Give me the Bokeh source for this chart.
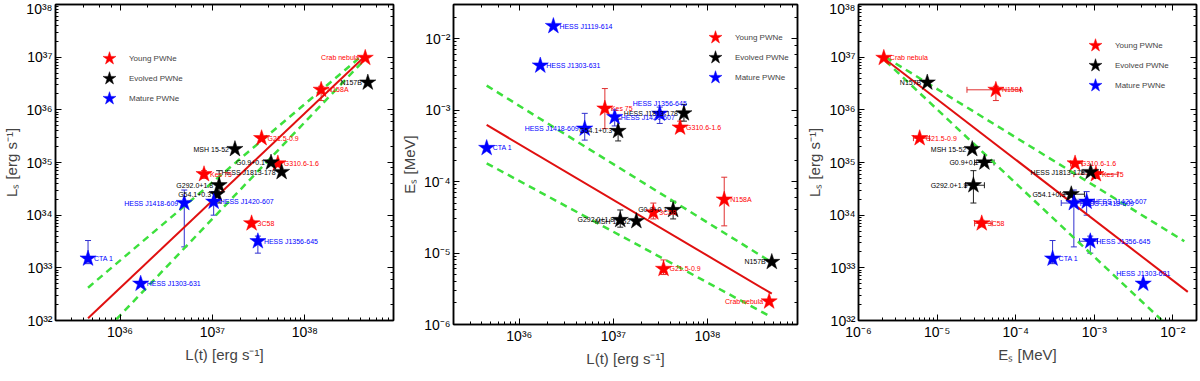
from bokeh.plotting import figure
from bokeh.layouts import row
from bokeh.models import (ColumnDataSource, LogAxis, Whisker, TeeHead, Legend,
                          LegendItem, CustomJSTickFormatter)
from bokeh.core.properties import value
from bokeh.embed import file_html
from bokeh.resources import INLINE

# ---------------- data ----------------
names = ["Crab nebula", "N157B", "N158A", "G21.5-0.9", "MSH 15-52", "G0.9+0.1",
         "G310.6-1.6", "HESS J1813-178", "Kes 75", "G292.0+1.8", "G54.1+0.3",
         "HESS J1420-607", "HESS J1418-609", "3C58", "HESS J1356-645", "CTA 1",
         "HESS J1303-631", "HESS J1119-614"]
groups = ["Young", "Evolved", "Young", "Young", "Evolved", "Evolved",
          "Young", "Evolved", "Young", "Evolved", "Evolved",
          "Mature", "Mature", "Young", "Mature", "Mature",
          "Mature", "Mature"]
# spin-down luminosity L(t) [erg/s]
L_t = [4.5e38, 4.8e38, 1.5e38, 3.4e37, 1.75e37, 4.3e37,
       5.1e37, 5.6e37, 8.1e36, 1.18e37, 1.12e37,
       1.03e37, 4.95e36, 2.65e37, 3.1e37, 4.5e35,
       1.67e36, 2.3e36]
# synchrotron luminosity L_S [erg/s]
L_s = [9.7e36, 3.3e36, 2.4e36, 2.9e35, 1.8e35, 1.0e35,
       9.6e34, 6.6e34, 6.0e34, 3.7e34, 2.5e34,
       1.8e34, 1.7e34, 7.0e33, 3.2e33, 1.5e33,
       5.0e32, None]
L_s_lo = [None, None, 1.5e36, None, None, None,
          None, None, 5.0e34, 1.7e34, None,
          1.0e34, 2.5e33, 6.0e33, 1.9e33, 1.2e33,
          None, None]
L_s_hi = [None, None, 2.8e36, None, None, None,
          None, None, 7.0e34, 7.0e34, None,
          2.8e34, 3.0e34, 8.0e33, 4.0e33, 3.3e33,
          None, None]
# break energy E_S [MeV]
E_s = [2.1e-6, 7.5e-6, 5.6e-5, 6.0e-6, 2.8e-5, 4.0e-5,
       5.7e-4, 9.0e-4, 1.05e-3, 2.9e-5, 5.1e-4,
       8.0e-4, 5.5e-4, 3.7e-5, 8.9e-4, 2.95e-4,
       4.2e-3, 1.5e-2]
E_s_lo = [None, None, 2.4e-5, 5.0e-6, None, 3.0e-5,
          5.0e-4, 7.0e-4, 5.5e-4, 2.3e-5, 3.7e-4,
          6.0e-4, 3.8e-4, 3.0e-5, 6.5e-4, None,
          None, None]
E_s_hi = [None, None, 1.15e-4, 8.0e-6, None, 5.3e-5,
          7.0e-4, 1.2e-3, 2.0e-3, 4.0e-5, 7.5e-4,
          1.0e-3, 9.0e-4, 5.0e-5, 1.1e-3, None,
          None, None]

# fitted relations (end points) and their bands
fitA_x = [4.5e35, 4.5e38];  fitA_y = [1.1e32, 1.05e37]
bandA_up_x = [4.5e35, 4.1e38]; bandA_up_y = [4.2e32, 1.05e37]
bandA_lo_x = [9.1e35, 4.3e38]; bandA_lo_y = [1.05e32, 8.5e36]

fitB_x = [4.5e35, 4.8e38];  fitB_y = [6.2e-4, 2.7e-6]
bandB_up_x = [4.5e35, 4.8e38]; bandB_up_y = [2.2e-3, 7.4e-6]
bandB_lo_x = [4.5e35, 4.6e38]; bandB_lo_y = [1.8e-4, 1.3e-6]

fitC_x = [2.2e-6, 1.55e-2]; fitC_y = [9.0e36, 3.5e32]
bandC_up_x = [2.2e-6, 1.4e-2]; bandC_up_y = [1.0e37, 3.2e33]
bandC_lo_x = [2.2e-6, 7.3e-3]; bandC_lo_y = [8.5e36, 1.0e32]

legend_labels = ["Young PWNe", "Evolved PWNe", "Mature PWNe"]

# ---------------- style ----------------
COLORS = {"Young": "#ff0000", "Evolved": "#000000", "Mature": "#0000ff"}
ERRCOL = {"Young": "#e03030", "Evolved": "#202020", "Mature": "#3030d0"}
FONT = "Liberation Sans"
NARROW = "'Liberation Sans Narrow', 'Liberation Sans'"

# label placement per panel: r = right, l = left, t = above
placeA = {"Crab nebula": "l", "N157B": "l", "N158A": "r", "G21.5-0.9": "r",
          "MSH 15-52": "l", "G0.9+0.1": "l", "G310.6-1.6": "r", "HESS J1813-178": "l",
          "Kes 75": "r", "G292.0+1.8": "l", "G54.1+0.3": "l", "HESS J1420-607": "r",
          "HESS J1418-609": "l", "3C58": "r", "HESS J1356-645": "r", "CTA 1": "r",
          "HESS J1303-631": "r"}
placeB = {"Crab nebula": "l", "N157B": "l", "N158A": "r", "G21.5-0.9": "r",
          "MSH 15-52": "l", "G0.9+0.1": "l", "G310.6-1.6": "r", "HESS J1813-178": "l",
          "Kes 75": "r", "G292.0+1.8": "l", "G54.1+0.3": "l", "HESS J1420-607": "r",
          "HESS J1418-609": "l", "3C58": "r", "HESS J1356-645": "t", "CTA 1": "r",
          "HESS J1303-631": "r", "HESS J1119-614": "r"}
placeC = {"Crab nebula": "r", "N157B": "l", "N158A": "r", "G21.5-0.9": "r",
          "MSH 15-52": "l", "G0.9+0.1": "l", "G310.6-1.6": "r", "HESS J1813-178": "l",
          "Kes 75": "r", "G292.0+1.8": "l", "G54.1+0.3": "l", "HESS J1420-607": "r",
          "HESS J1418-609": "r", "3C58": "r", "HESS J1356-645": "r", "CTA 1": "r",
          "HESS J1303-631": "t"}

SUP = """
const m = {'0':'\u2070','1':'\u00b9','2':'\u00b2','3':'\u00b3','4':'\u2074','5':'\u2075',
           '6':'\u2076','7':'\u2077','8':'\u2078','9':'\u2079','-':'\u207b'};
const e = Math.round(Math.log10(tick));
return '10' + String(e).split('').map(c => m[c]).join('');
"""


def make_fig(fw, fh, xr, yr, xlabel, ylabel, borders):
    p = figure(frame_width=fw, frame_height=fh, x_axis_type="log", y_axis_type="log",
               x_range=xr, y_range=yr, output_backend="svg", toolbar_location=None,
               min_border_left=borders[0], min_border_right=borders[1],
               min_border_top=borders[2], min_border_bottom=borders[3])
    p.xgrid.visible = False
    p.ygrid.visible = False
    p.outline_line_color = "black"
    p.outline_line_width = 1.5
    for ax in (p.xaxis[0], p.yaxis[0]):
        ax.formatter = CustomJSTickFormatter(code=SUP)
        ax.major_tick_in = 6
        ax.major_tick_out = 0
        ax.minor_tick_in = 3
        ax.minor_tick_out = 0
        ax.axis_line_width = 1.5
        ax.major_label_text_font = FONT
        ax.major_label_text_font_size = "14px"
        ax.major_label_text_color = "black"
        ax.axis_label_text_font = FONT
        ax.axis_label_text_font_size = "15px"
        ax.axis_label_text_font_style = "normal"
        ax.major_label_standoff = 3
        ax.axis_label_standoff = 3
    p.xaxis[0].axis_label = xlabel
    p.yaxis[0].axis_label = ylabel
    for place in ("above", "right"):
        ax = LogAxis(major_label_standoff=0, major_label_text_font_size="1px",
                     major_tick_in=6, major_tick_out=0, minor_tick_in=3, minor_tick_out=0,
                     axis_line_width=1.5)
        ax.formatter = CustomJSTickFormatter(code="return ' ';")
        p.add_layout(ax, place)
    return p


def side_cols(place, nm):
    s = place.get(nm, "r")
    if s == "r":
        return 6, 0, "left"
    if s == "l":
        return -6, 0, "right"
    return 0, -10, "center"


def draw(p, xs, ys, xlo, xhi, ylo, yhi, place, legend_xy):
    renderers = {}
    for g in ("Young", "Evolved", "Mature"):
        idx = [i for i in range(len(names)) if groups[i] == g and xs[i] is not None and ys[i] is not None]
        src = ColumnDataSource(dict(x=[xs[i] for i in idx], y=[ys[i] for i in idx]))
        if ylo is not None:
            e = [i for i in idx if ylo[i] is not None]
            es = ColumnDataSource(dict(b=[xs[i] for i in e], lo=[ylo[i] for i in e], hi=[yhi[i] for i in e]))
            p.add_layout(Whisker(source=es, base="b", lower="lo", upper="hi", dimension="height",
                                 line_color=ERRCOL[g], line_width=1,
                                 upper_head=TeeHead(size=6, line_color=ERRCOL[g], line_width=1),
                                 lower_head=TeeHead(size=6, line_color=ERRCOL[g], line_width=1)))
        if xlo is not None:
            e = [i for i in idx if xlo[i] is not None]
            es = ColumnDataSource(dict(b=[ys[i] for i in e], lo=[xlo[i] for i in e], hi=[xhi[i] for i in e]))
            p.add_layout(Whisker(source=es, base="b", lower="lo", upper="hi", dimension="width",
                                 line_color=ERRCOL[g], line_width=1,
                                 upper_head=TeeHead(size=6, line_color=ERRCOL[g], line_width=1),
                                 lower_head=TeeHead(size=6, line_color=ERRCOL[g], line_width=1)))
        renderers[g] = p.scatter("x", "y", source=src, marker="star", size=17,
                                 fill_color=COLORS[g], line_color=COLORS[g], line_width=0.5)
    idx = [i for i in range(len(names)) if xs[i] is not None and ys[i] is not None]
    dx, dy, al = zip(*[side_cols(place, names[i]) for i in idx])
    lsrc = ColumnDataSource(dict(x=[xs[i] for i in idx], y=[ys[i] for i in idx],
                                 t=[names[i] for i in idx],
                                 c=[COLORS[groups[i]] for i in idx],
                                 dx=list(dx), dy=list(dy), al=list(al)))
    p.text("x", "y", text="t", source=lsrc, text_color="c", text_font=value(NARROW),
           text_font_size="7px", x_offset="dx", y_offset="dy", text_align="al",
           text_baseline="middle")
    lx, ly = legend_xy
    for k, g in enumerate(("Young", "Evolved", "Mature")):
        leg = Legend(items=[LegendItem(label=legend_labels[k], renderers=[renderers[g]])],
                     location=(lx, ly - 20 * k), glyph_width=34, glyph_height=34,
                     padding=0, margin=0, label_standoff=3, label_text_font=NARROW,
                     label_text_font_size="8px", border_line_alpha=0,
                     background_fill_alpha=0)
        p.add_layout(leg)


def fit_lines(p, fx, fy, ux, uy, lx, ly):
    p.line(ux, uy, line_color="#3de03d", line_width=2.5, line_dash="7 5")
    p.line(lx, ly, line_color="#3de03d", line_width=2.5, line_dash="7 5")
    p.line(fx, fy, line_color="#e01010", line_width=2)


# Panel A: L_S vs L(t)
pA = make_fig(338, 316, (2.0e35, 9.1e38), (1e32, 1e38), "L(t) [erg s\u207b\u00b9]",
              "L\u209b [erg s\u207b\u00b9]", (50, 4, 3, 45))
fit_lines(pA, fitA_x, fitA_y, bandA_up_x, bandA_up_y, bandA_lo_x, bandA_lo_y)
draw(pA, L_t, L_s, None, None, L_s_lo, L_s_hi, placeA, (37, 245))

# Panel B: E_S vs L(t)
pB = make_fig(344, 320, (2.0e35, 9.0e38), (1e-6, 3e-2), "L(t) [erg s\u207b\u00b9]",
              "E\u209b [MeV]", (50, 6, 0, 44))
fit_lines(pB, fitB_x, fitB_y, bandB_up_x, bandB_up_y, bandB_lo_x, bandB_lo_y)
draw(pB, L_t, E_s, None, None, E_s_lo, E_s_hi, placeB, (245, 270))

# Panel C: L_S vs E_S
pC = make_fig(338, 316, (1e-6, 2e-2), (1e32, 1e38), "E\u209b [MeV]",
              "L\u209b [erg s\u207b\u00b9]", (50, 4, 3, 45))
fit_lines(pC, fitC_x, fitC_y, bandC_up_x, bandC_up_y, bandC_lo_x, bandC_lo_y)
draw(pC, E_s, L_s, E_s_lo, E_s_hi, L_s_lo, L_s_hi, placeC, (220, 258))

layout = row(pA, pB, pC)
open("out.html", "w").write(file_html(layout, INLINE))
